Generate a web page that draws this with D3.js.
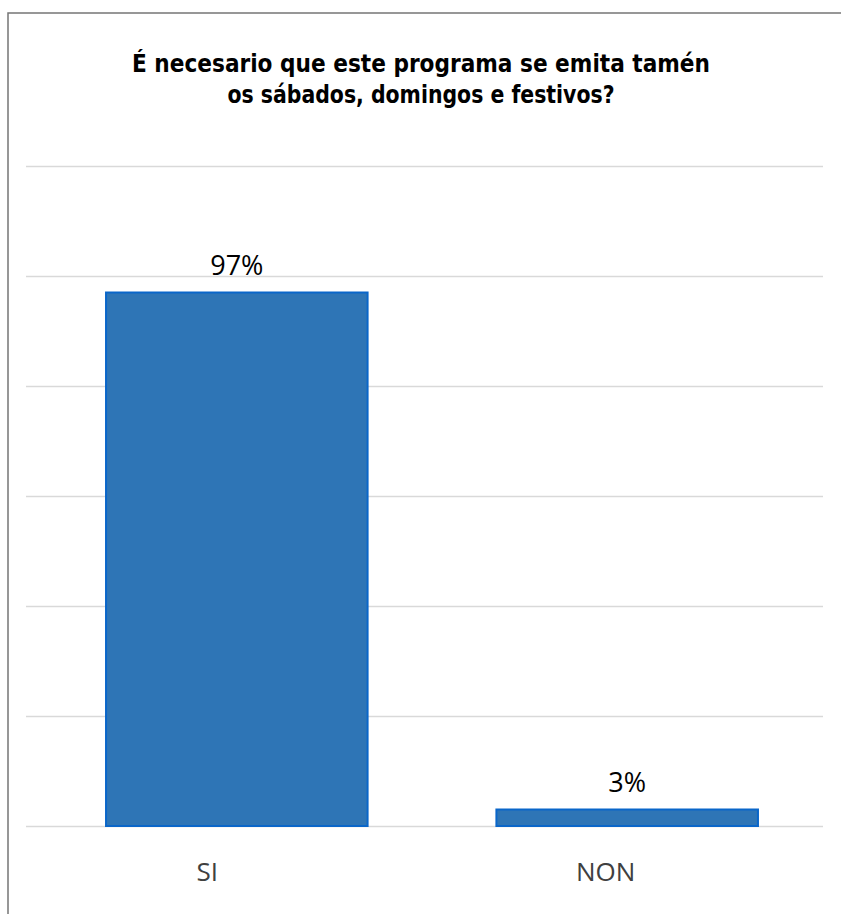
<!DOCTYPE html>
<html>
<head>
<meta charset="utf-8">
<script src="https://cdn.jsdelivr.net/npm/d3@7"></script>
<style>
  html, body { margin: 0; padding: 0; background: #ffffff; }
  svg { display: block; }
</style>
</head>
<body>
<div id="chart"></div>
<script>
const categories = ["SI", "NON"];
const values = [0.97, 0.03];
const valueLabels = ["97%", "3%"];
const gridTicks = [0, 0.2, 0.4, 0.6, 0.8, 1.0, 1.2];
const titleLines = ["É necesario que este programa se emita tamén", "os sábados, domingos e festivos?"];

const W = 841, H = 914;
const svg = d3.select("#chart").append("svg").attr("width", W).attr("height", H);

// outer frame
svg.append("path")
  .attr("d", "M8,914 L8,13 L841,13")
  .attr("fill", "none").attr("stroke", "#767676").attr("stroke-width", 1.5);

const y = d3.scaleLinear().domain([0, 1.2]).range([826, 166]);
const x = d3.scaleBand().domain(categories).range([26, 838]).paddingInner(0.33).paddingOuter(0.205);
const xLab = d3.scaleBand().domain(categories).range([8, 805]);

// gridlines
svg.append("g").selectAll("line").data(gridTicks).join("line")
  .attr("x1", 26).attr("x2", 823)
  .attr("y1", d => Math.round(y(d)) + 0.5).attr("y2", d => Math.round(y(d)) + 0.5)
  .attr("stroke", "#d9d9d9").attr("stroke-width", 1.3);

// bars
svg.append("g").selectAll("rect").data(categories).join("rect")
  .attr("x", d => x(d))
  .attr("width", x.bandwidth())
  .attr("y", (d, i) => y(values[i]))
  .attr("height", (d, i) => y(0) - y(values[i]))
  .attr("fill", "#2e75b6")
  .attr("stroke", "#0a66c9").attr("stroke-width", 2);

// value labels
svg.append("g").selectAll("text").data(categories).join("text")
  .attr("x", d => x(d) + x.bandwidth() / 2)
  .attr("y", (d, i) => y(values[i]) - 18)
  .attr("text-anchor", "middle")
  .attr("font-family", "'Open Sans', 'Noto Sans', sans-serif")
  .attr("font-size", 27)
  .attr("fill", "#000000")
  .text((d, i) => valueLabels[i]);

// category labels
svg.append("g").selectAll("text").data(categories).join("text")
  .attr("x", d => xLab(d) + xLab.bandwidth() / 2)
  .attr("y", 881)
  .attr("text-anchor", "middle")
  .attr("font-family", "'Open Sans', 'Noto Sans', sans-serif")
  .attr("font-size", 26)
  .attr("fill", "#404040")
  .text(d => d);

// title
const titleWidths = [578, 387];
const tg = svg.append("g");
titleLines.forEach((t, i) => {
  const el = tg.append("text")
    .attr("x", 421)
    .attr("y", 72 + i * 31)
    .attr("text-anchor", "middle")
    .attr("font-family", "'DejaVu Sans', sans-serif")
    .attr("font-weight", "bold")
    .attr("font-size", 25)
    .attr("fill", "#000000")
    .text(t);
  const w = el.node().getComputedTextLength();
  if (Math.abs(w - titleWidths[i]) > 4) {
    el.attr("textLength", titleWidths[i]).attr("lengthAdjust", "spacingAndGlyphs");
  }
});
</script>
</body>
</html>
